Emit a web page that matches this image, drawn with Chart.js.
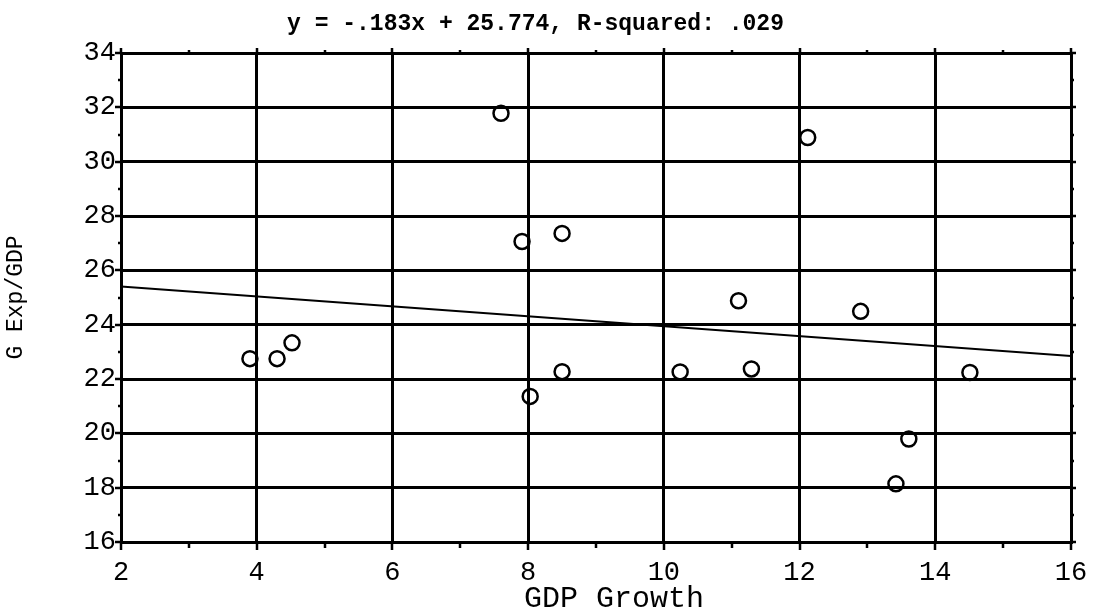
<!DOCTYPE html>
<html>
<head>
<meta charset="utf-8">
<title>G Exp/GDP vs GDP Growth</title>
<script src="https://cdn.jsdelivr.net/npm/chart.js@4.4.1/dist/chart.umd.min.js"></script>
<style>
  html, body { margin: 0; padding: 0; background: #ffffff; }
  #wrap { width: 1094px; height: 613px; }
</style>
</head>
<body>
<div id="wrap"><canvas id="chart" width="1094" height="613"></canvas></div>
<script>
// Observations: GDP growth (%) and government expenditure as a share of GDP (%)
const gdpGrowth   = [3.9, 4.3, 4.52, 7.6, 7.91, 8.03, 8.5, 8.5, 10.24, 11.1, 11.29, 12.12, 12.9, 13.42, 13.61, 14.51];
const govExpShare = [22.75, 22.75, 23.33, 31.78, 27.06, 21.36, 27.36, 22.27, 22.26, 24.88, 22.37, 30.89, 24.49, 18.14, 19.79, 22.24];

// Least-squares fit reported in the heading
const fitSlope = -0.183;
const fitIntercept = 25.774;
const fitRSquared = '.029';
const fitRange = [2, 16];

// Axis ranges and tick spacing
const xRange = [2, 16];
const yRange = [16, 34];
const majorStep = 2;
const minorStep = 1;

const headingText = 'y = -.183x + 25.774, R-squared: ' + fitRSquared;
const xTitle = 'GDP Growth';
const yTitle = 'G Exp/GDP';

const points = gdpGrowth.map((x, i) => ({ x: x, y: govExpShare[i] }));
const fitLine = fitRange.map(x => ({ x: x, y: fitSlope * x + fitIntercept }));

const MONO = "'Liberation Mono', 'Courier New', monospace";
const INK = '#000000';

// Outward tick marks on all four sides of the frame, long at even values, short at odd ones
const frameTicks = {
  id: 'frameTicks',
  beforeDatasetsDraw(chart) {
    const { ctx, chartArea: a, scales } = chart;
    const xs = scales.x, ys = scales.y;
    ctx.save();
    ctx.strokeStyle = INK;
    ctx.lineWidth = 2.5;
    ctx.lineCap = 'butt';
    for (let v = xRange[0]; v <= xRange[1] + 1e-9; v += minorStep) {
      const major = Math.abs(v % majorStep) < 1e-9;
      const px = Math.round(xs.getPixelForValue(v));
      ctx.beginPath();
      ctx.moveTo(px, a.bottom); ctx.lineTo(px, a.bottom + (major ? 8 : 6));
      ctx.moveTo(px, a.top); ctx.lineTo(px, a.top - (major ? 5 : 3));
      ctx.stroke();
    }
    for (let v = yRange[0]; v <= yRange[1] + 1e-9; v += minorStep) {
      const major = Math.abs(v % majorStep) < 1e-9;
      const py = Math.round(ys.getPixelForValue(v));
      ctx.beginPath();
      ctx.moveTo(a.left, py); ctx.lineTo(a.left - (major ? 6 : 3), py);
      ctx.moveTo(a.right, py); ctx.lineTo(a.right + (major ? 5 : 3), py);
      ctx.stroke();
    }
    ctx.restore();
  },
  // x-axis caption, set a little right of the plot centre under the tick labels
  afterDraw(chart) {
    const { ctx, chartArea: a } = chart;
    ctx.save();
    ctx.fillStyle = INK;
    ctx.font = "30px " + MONO;
    ctx.textAlign = 'center';
    ctx.textBaseline = 'middle';
    ctx.fillText(xTitle, (a.left + a.right) / 2 + 18, a.bottom + 57);
    ctx.restore();
  }
};

new Chart(document.getElementById('chart'), {
  type: 'scatter',
  data: {
    datasets: [
      {
        label: 'Observations',
        data: points,
        pointStyle: 'circle',
        pointRadius: 7.5,
        pointHoverRadius: 7.5,
        borderColor: INK,
        backgroundColor: 'rgba(0,0,0,0)',
        borderWidth: 2.5,
        showLine: false
      },
      {
        label: 'Fit',
        type: 'line',
        data: fitLine,
        borderColor: INK,
        borderWidth: 2,
        pointRadius: 0,
        fill: false,
        tension: 0
      }
    ]
  },
  options: {
    responsive: false,
    animation: false,
    events: [],
    layout: { padding: { left: 0, right: 23, top: 0, bottom: 0 } },
    plugins: {
      legend: { display: false },
      tooltip: { enabled: false },
      title: {
        display: true,
        text: headingText,
        color: INK,
        font: { family: MONO, size: 23, weight: 'bold', lineHeight: 1.2 },
        padding: { top: 10, bottom: 15.4 }
      }
    },
    scales: {
      x: {
        type: 'linear',
        position: 'bottom',
        min: xRange[0],
        max: xRange[1],
        afterFit(scale) { scale.height = 71; },
        ticks: {
          stepSize: majorStep,
          color: INK,
          font: { family: MONO, size: 27, lineHeight: 1.2 },
          padding: 2,
          maxRotation: 0
        },
        grid: { color: INK, lineWidth: 3, drawTicks: true, tickLength: 13, tickColor: 'rgba(0,0,0,0)' },
        border: { display: true, color: INK, width: 3 }
      },
      y: {
        type: 'linear',
        position: 'left',
        min: yRange[0],
        max: yRange[1],
        afterFit(scale) { scale.width = 121; },
        ticks: {
          stepSize: majorStep,
          color: INK,
          font: { family: MONO, size: 27, lineHeight: 1.2 },
          padding: 5
        },
        grid: { color: INK, lineWidth: 3, drawTicks: false },
        border: { display: true, color: INK, width: 3 },
        title: {
          display: true,
          text: yTitle,
          color: INK,
          font: { family: MONO, size: 23, lineHeight: 1 },
          padding: { top: 4, bottom: 0 }
        }
      }
    }
  },
  plugins: [frameTicks]
});
</script>
</body>
</html>
